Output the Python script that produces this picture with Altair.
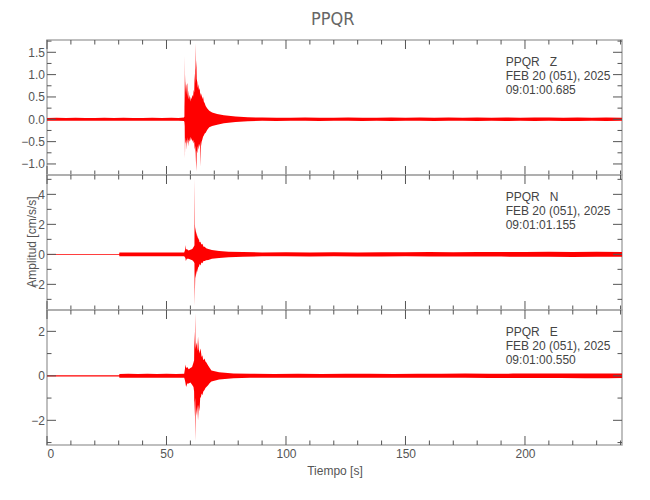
import altair as alt
import pandas as pd

# ---------------- data ----------------
XMAX = 240.6

# Z component: time [s], upper / lower envelope [cm/s/s]
t_z = [0, 4, 8, 12, 16, 20, 24, 28, 32, 36, 40, 44, 48, 52, 55, 57.3,
       57.5, 57.62, 57.72, 57.85, 58.0, 58.15, 58.3, 58.45, 58.7, 58.9, 59.1, 59.3, 59.6, 59.9,
       60.2, 60.5, 60.8, 61.1, 61.4, 61.6, 61.8, 62.0, 62.2, 62.3, 62.5, 62.65, 62.9, 63.1,
       63.3, 63.6, 63.9, 64.1, 64.25, 64.45, 64.7, 65.0, 65.3, 65.6, 66.0, 66.4, 67.0, 67.9,
       69.1, 71.2, 74.0, 78.9,
       84, 90, 96, 102, 108, 114, 120, 126, 132, 138, 144, 150, 156, 162, 168, 174,
       180, 186, 192, 198, 204, 210, 216, 222, 228, 234, 240.6]
hi_z = [.03, .035, .03, .035, .03, .03, .035, .03, .035, .03, .03, .035, .03, .035, .03, .04,
        .06, 1.42, .30, 1.00, .60, .85, .55, .75, .81, .50, .65, .45, .55, .40,
        .50, .45, .55, .50, .66, .60, 1.03, .80, 1.70, 1.10, 1.33, .90, .83, .70,
        .79, .65, .70, .55, .60, .50, .58, .45, .51, .40, .36, .30, .25, .19,
        .15, .12, .09, .06,
        .045, .04, .035, .035, .04, .035, .035, .04, .035, .035, .04, .035, .04, .035, .04, .035,
        .04, .035, .04, .035, .04, .04, .035, .04, .035, .04, .035]
lo_z = [-.03, -.03, -.035, -.03, -.03, -.035, -.03, -.035, -.03, -.03, -.035, -.03, -.035, -.03, -.03, -.04,
        -.06, -.15, -.87, -.40, -.55, -.50, -.69, -.45, -.55, -.40, -.61, -.45, -.50, -.39,
        -.48, -.42, -.50, -.45, -.54, -.50, -.68, -.60, -.75, -.91, -1.16, -.70, -.76, -.60,
        -.68, -.55, -.62, -.50, -1.06, -.60, -.50, -.45, -.39, -.36, -.32, -.30, -.24, -.18,
        -.15, -.12, -.09, -.06,
        -.045, -.035, -.04, -.035, -.035, -.04, -.035, -.035, -.04, -.035, -.04, -.035, -.035, -.04, -.035, -.035,
        -.04, -.035, -.04, -.035, -.04, -.035, -.04, -.04, -.035, -.04, -.035]

# N component
t_n = [0, 6, 12, 18, 24, 30.2, 30.3, 34, 38, 42, 46, 50, 54, 57.4,
       57.7, 57.9, 58.1, 58.5, 59.2, 60.0, 60.8, 61.4, 61.7, 61.8, 61.9, 62.05, 62.2, 62.4,
       62.6, 62.8, 63.0, 63.25, 63.5, 63.8, 64.2, 64.6, 65.0, 65.5, 66.0, 66.6, 67.5, 69.0,
       72.0, 76.0, 82.0,
       90, 100, 110, 120, 130, 140, 150, 160, 170, 180, 190, 200, 210, 220, 230, 240.6]
hi_n = [.03, .03, .03, .03, .03, .03, .13, .12, .13, .12, .13, .12, .13, .13,
        .25, .62, .30, .35, .25, .30, .35, .50, .60, 5.07, 2.0, 1.5, 1.8, 1.3,
        1.5, 1.1, 1.29, .95, 1.1, .80, .84, .65, .70, .50, .51, .40, .35, .29,
        .22, .18, .15,
        .13, .14, .13, .14, .13, .14, .14, .15, .14, .15, .16, .16, .17, .16, .17, .16]
lo_n = [-.03, -.03, -.03, -.03, -.03, -.03, -.12, -.13, -.13, -.12, -.13, -.13, -.12, -.13,
        -.20, -.25, -.45, -.30, -.30, -.35, -.40, -.50, -.60, -3.45, -2.38, -1.4, -1.6, -1.1,
        -1.38, -.95, -1.2, -.80, -.90, -.65, -.75, -.55, -.60, -.45, -.45, -.40, -.38, -.30,
        -.24, -.20, -.16,
        -.13, -.13, -.14, -.13, -.14, -.14, -.13, -.14, -.15, -.15, -.15, -.16, -.16, -.17, -.16, -.16]

# E component
t_e = [0, 6, 12, 18, 24, 30.2, 30.3, 34, 38, 42, 46, 50, 54, 57.4,
       57.7, 57.9, 58.2, 58.7, 59.3, 60.0, 60.7, 61.3, 61.55, 61.7, 61.85, 62.0, 62.1, 62.2,
       62.4, 62.6, 62.9, 63.2, 63.5, 63.8, 64.1, 64.4, 64.7, 65.0, 65.4, 65.9, 66.3, 66.7,
       67.4, 68.1, 68.8, 72.0, 78.0,
       85, 95, 105, 115, 125, 135, 145, 155, 165, 175, 185, 195, 205, 215, 225, 235, 240.6]
hi_e = [.025, .025, .025, .025, .025, .025, .085, .09, .085, .09, .085, .09, .085, .09,
        .30, .51, .35, .40, .30, .35, .40, .60, .70, 1.98, 1.3, 2.81, 1.6, 1.2,
        1.4, 1.5, 1.1, 1.76, 1.2, 1.0, 1.23, 1.1, .85, .93, .70, .78, .65, .60,
        .47, .35, .24, .16, .11,
        .09, .085, .09, .085, .09, .09, .085, .09, .09, .10, .09, .10, .10, .11, .10, .11, .10]
lo_e = [-.025, -.025, -.025, -.025, -.025, -.025, -.085, -.085, -.09, -.085, -.085, -.09, -.085, -.09,
        -.20, -.30, -.50, -.35, -.35, -.30, -.40, -.50, -.70, -1.85, -1.2, -1.0, -1.5, -2.94,
        -1.4, -1.8, -1.3, -2.0, -1.3, -1.6, -1.0, -.95, -.80, -.87, -.70, -.64, -.55, -.50,
        -.42, -.32, -.25, -.16, -.11,
        -.085, -.09, -.085, -.085, -.09, -.085, -.09, -.09, -.09, -.09, -.10, -.10, -.10, -.10, -.11, -.11, -.10]

x_major = [0, 50, 100, 150, 200]
x_minor = [10, 20, 30, 40, 60, 70, 80, 90, 110, 120, 130, 140, 160, 170, 180, 190, 210, 220, 230, 240]

panels = [
    dict(t=t_z, hi=hi_z, lo=lo_z, domain=[-1.247, 1.775],
         major=[-1.0, -0.5, 0.0, 0.5, 1.0, 1.5], minor=[-0.75, -0.25, 0.25, 0.75, 1.25, 1.75],
         fmt=".1f", info="PPQR\u00a0\u00a0\u00a0Z\nFEB 20 (051), 2025\n09:01:00.685"),
    dict(t=t_n, hi=hi_n, lo=lo_n, domain=[-3.71, 5.29],
         major=[-2, 0, 2, 4], minor=[-3, -1, 1, 3, 5],
         fmt="d", info="PPQR\u00a0\u00a0\u00a0N\nFEB 20 (051), 2025\n09:01:01.155"),
    dict(t=t_e, hi=hi_e, lo=lo_e, domain=[-3.11, 2.96],
         major=[-2, 0, 2], minor=[-3, -1, 1],
         fmt="d", info="PPQR\u00a0\u00a0\u00a0E\nFEB 20 (051), 2025\n09:01:00.550"),
]

# ---------------- style ----------------
FONT = "Liberation Sans, Arial, DejaVu Sans, sans-serif"
NARROW = "Liberation Sans Narrow, DejaVu Sans Condensed, Liberation Sans, sans-serif"
TXT = "#555555"
TICK = "#555555"
RED = "#ff0000"
W, H = 575, 135
MAJ, MIN = 9, 4.5


def make_panel(p, bottom, ytitle):
    df = pd.DataFrame({"t": p["t"], "hi": p["hi"], "lo": p["lo"]})
    xs = alt.Scale(domain=[0, XMAX], nice=False, zero=False)
    ys = alt.Scale(domain=p["domain"], nice=False, zero=False)

    if bottom:
        x_ax = alt.Axis(orient="bottom", values=x_major, ticks=False, tickSize=0, domain=False,
                        grid=False, labelPadding=3, labelFontSize=12, labelFont=FONT,
                        labelColor=TXT, title="Tiempo [s]", titleX=W / 2, titleY=25,
                        titleBaseline="middle", titleAlign="center", titleFont=FONT,
                        titleFontSize=12, titleFontWeight="normal", titleColor=TXT)
    else:
        x_ax = None

    ykw = dict(orient="left", values=p["major"], format=p["fmt"], ticks=False, tickSize=0,
               domain=False, grid=False, labelPadding=2.5, labelFontSize=12, labelFont=FONT,
               labelColor=TXT)
    if ytitle:
        y_ax = alt.Axis(title="Amplitud [cm/s/s]", titleX=-16, titleY=H / 2 - 1,
                        titleAngle=270, titleBaseline="middle", titleAlign="center",
                        titleFont=FONT, titleFontSize=12, titleFontWeight="normal",
                        titleColor=TXT, **ykw)
    else:
        y_ax = alt.Axis(title=None, **ykw)

    trace = alt.Chart(df).mark_area(color=RED, strokeWidth=0, orient="vertical").encode(
        x=alt.X("t:Q", scale=xs, axis=x_ax),
        y=alt.Y("hi:Q", scale=ys, axis=y_ax),
        y2=alt.Y2("lo:Q"),
    )

    layers = [trace]
    # inward tick marks on all four sides, positioned through the shared scales
    for vals, size in ((x_major, MAJ), (x_minor, MIN)):
        d = pd.DataFrame({"v": vals})
        xt = alt.X("v:Q", scale=xs, axis=None)
        for y0, y1 in ((0, size), (H, H - size)):
            layers.append(alt.Chart(d).mark_rule(color=TICK, strokeWidth=1).encode(
                x=xt, y=alt.value(y0), y2=alt.value(y1)))
    for vals, size in ((p["major"], MAJ), (p["minor"], MIN)):
        d = pd.DataFrame({"v": vals})
        yt = alt.Y("v:Q", scale=ys, axis=None)
        for x0, x1 in ((0, size), (W, W - size)):
            layers.append(alt.Chart(d).mark_rule(color=TICK, strokeWidth=1).encode(
                y=yt, x=alt.value(x0), x2=alt.value(x1)))

    info = alt.Chart(pd.DataFrame({"txt": [p["info"]]})).mark_text(
        align="left", baseline="top", lineBreak="\n", lineHeight=14,
        font=FONT, fontSize=12, color="#444444"
    ).encode(x=alt.value(458.7), y=alt.value(17), text="txt:N")
    layers.append(info)
    return alt.layer(*layers).resolve_axis(x="independent", y="independent").properties(
        width=W, height=H)


charts = [make_panel(p, i == 2, i == 1) for i, p in enumerate(panels)]

chart = alt.vconcat(*charts, spacing=0, bounds="flush").properties(
    title=alt.TitleParams(text="PPQR", font=NARROW, fontSize=18, fontWeight="normal",
                          color="#666666", anchor="middle", offset=10, dx=11),
    padding={"left": 12, "top": 2, "right": 10, "bottom": 5},
).configure_view(stroke="#aaaaaa", strokeWidth=1.5)

chart.save("out.html", embed_options={"renderer": "svg", "actions": False})
